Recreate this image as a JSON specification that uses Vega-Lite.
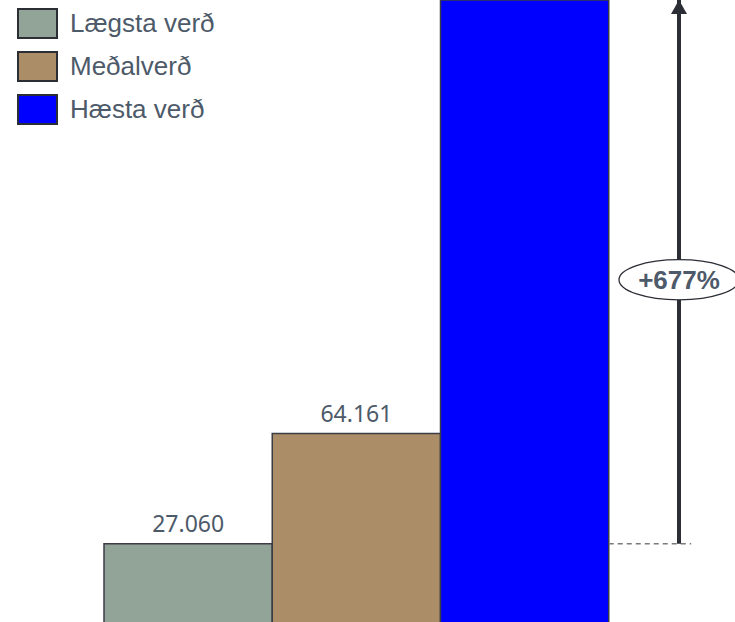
{
  "$schema": "https://vega.github.io/schema/vega-lite/v6.json",
  "width": 735,
  "height": 624,
  "padding": 0,
  "autosize": {"type": "none"},
  "config": {
    "view": {"stroke": null},
    "locale": {"number": {"decimal": ",", "thousands": ".", "grouping": [3], "currency": ["", " kr."]}}
  },
  "datasets": {
    "verd": [
      {"flokkur": "Lægsta verð", "verd": 27060},
      {"flokkur": "Meðalverð", "verd": 64161},
      {"flokkur": "Hæsta verð", "verd": 210256}
    ],
    "munur": [
      {"flokkur": "Hækkun", "fra": 27060, "til": 210256, "texti": "+677%", "mid": 116000}
    ]
  },
  "layer": [
    {
      "data": {"name": "verd"},
      "mark": {"type": "bar", "stroke": "#3a3d45", "strokeWidth": 1.5},
      "encoding": {
        "x": {"field": "flokkur", "type": "nominal", "axis": null,
              "scale": {"domain": ["Lægsta verð", "Meðalverð", "Hæsta verð", "Hækkun"], "range": [104, 777], "paddingInner": 0, "paddingOuter": 0}},
        "y": {"field": "verd", "type": "quantitative", "axis": null, "scale": {"domain": [0, 210256], "nice": false}},
        "color": {"field": "flokkur", "type": "nominal",
                  "scale": {"domain": ["Lægsta verð", "Meðalverð", "Hæsta verð"], "range": ["#92a398", "#ab8d67", "#0000ff"]},
                  "legend": {"title": null, "orient": "none", "legendX": 17, "legendY": 3, "padding": 0,
                             "symbolType": "M-1,-0.74 L1,-0.74 L1,0.74 L-1,0.74 Z", "symbolSize": 1521, "symbolStrokeColor": "#2c2e36", "symbolStrokeWidth": 2, "symbolOpacity": 1,
                             "labelFont": "Liberation Sans", "labelFontSize": 26, "labelColor": "#4d5a69", "labelOffset": 12, "rowPadding": 4}}
      }
    },
    {
      "data": {"name": "verd"},
      "transform": [{"filter": "datum.verd < 200000"}],
      "mark": {"type": "text", "baseline": "alphabetic", "dy": -12, "font": "Noto Sans", "fontSize": 23, "color": "#4d5a69"},
      "encoding": {
        "x": {"field": "flokkur", "type": "nominal"},
        "y": {"field": "verd", "type": "quantitative"},
        "text": {"field": "verd", "type": "quantitative", "format": ",d"}
      }
    },
    {
      "data": {"name": "munur"},
      "mark": {"type": "rule", "strokeDash": [5, 4], "strokeWidth": 1.5, "color": "#7a7a7a"},
      "encoding": {
        "x": {"datum": "Hæsta verð", "type": "nominal", "bandPosition": 1},
        "x2": {"datum": "Hækkun", "bandPosition": 0.49},
        "y": {"field": "fra", "type": "quantitative"}
      }
    },
    {
      "data": {"name": "munur"},
      "mark": {"type": "rule", "strokeWidth": 4, "color": "#2c2e36"},
      "encoding": {
        "x": {"field": "flokkur", "type": "nominal", "bandPosition": 0.4175},
        "y": {"field": "fra", "type": "quantitative"},
        "y2": {"field": "til"}
      }
    },
    {
      "data": {"name": "munur"},
      "mark": {"type": "point", "shape": "M0,0 L1,1.75 L-1,1.75 Z", "size": 256, "filled": true, "color": "#2c2e36", "opacity": 1},
      "encoding": {
        "x": {"field": "flokkur", "type": "nominal", "bandPosition": 0.4175},
        "y": {"field": "til", "type": "quantitative"}
      }
    },
    {
      "data": {"name": "munur"},
      "mark": {"type": "point", "shape": "M-1,0 A1,0.335,0,1,0,1,0 A1,0.335,0,1,0,-1,0 Z", "size": 14400, "filled": true, "fill": "white", "stroke": "#2c2e36", "strokeWidth": 1.3, "opacity": 1},
      "encoding": {
        "x": {"field": "flokkur", "type": "nominal", "bandPosition": 0.4175},
        "y": {"field": "mid", "type": "quantitative"}
      }
    },
    {
      "data": {"name": "munur"},
      "mark": {"type": "text", "font": "Liberation Sans", "fontWeight": "bold", "fontSize": 26, "color": "#4d5a69", "baseline": "middle", "dy": 1},
      "encoding": {
        "x": {"field": "flokkur", "type": "nominal", "bandPosition": 0.4175},
        "y": {"field": "mid", "type": "quantitative"},
        "text": {"field": "texti"}
      }
    }
  ]
}
